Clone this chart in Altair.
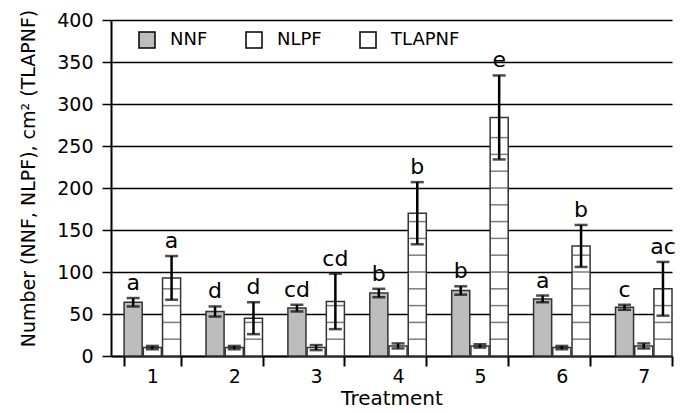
import altair as alt
import pandas as pd

treatments = ["1", "2", "3", "4", "5", "6", "7"]
series = ["NNF", "NLPF", "TLAPNF"]
nnf = [64, 53, 57, 75, 78, 68, 58]
nnf_err = [5, 6, 4, 5, 5, 4, 3]
nlpf = [10, 10, 10, 12, 12, 10, 12]
nlpf_err = [2, 2, 3, 3, 2, 2, 3]
tla = [93, 45, 65, 170, 284, 131, 80]
tla_err = [26, 19, 33, 37, 50, 25, 32]
nnf_lbl = ["a", "d", "cd", "b", "b", "a", "c"]
tla_lbl = ["a", "d", "cd", "b", "e", "b", "ac"]

rows = []
for i, t in enumerate(treatments):
    rows.append(dict(Treatment=t, Series="NNF", Value=nnf[i], Err=nnf_err[i], Label=nnf_lbl[i]))
    rows.append(dict(Treatment=t, Series="NLPF", Value=nlpf[i], Err=nlpf_err[i], Label=""))
    rows.append(dict(Treatment=t, Series="TLAPNF", Value=tla[i], Err=tla_err[i], Label=tla_lbl[i]))
df = pd.DataFrame(rows)
df["Lo"] = df["Value"] - df["Err"]
df["Hi"] = df["Value"] + df["Err"]

# horizontal hatch lines inside TLAPNF bars (derived from the values)
stripe_rows = []
for i, t in enumerate(treatments):
    y = 20
    while y < tla[i] - 4:
        stripe_rows.append(dict(Treatment=t, Series="TLAPNF", S=y))
        y += 20
stripes = pd.DataFrame(stripe_rows)

FONT = "DejaVu Sans"

x_scale = alt.Scale(domain=treatments, paddingInner=0.31, paddingOuter=0.08, align=1)
x_enc = alt.X("Treatment:N", title="Treatment", scale=x_scale,
              axis=alt.Axis(labelAngle=0, tickBand="extent", tickSize=10, tickWidth=2,
                            tickColor="black", domainColor="black", domainWidth=2,
                            labelFontSize=19, titleFontSize=20, labelPadding=1,
                            titlePadding=2, labelColor="black", titleColor="black",
                            labelFont=FONT, titleFont=FONT, titleFontWeight="normal"))
xo_enc = alt.XOffset("Series:N", scale=alt.Scale(domain=series, paddingInner=0.06))
y_scale = alt.Scale(domain=[0, 400])

bars = alt.Chart(df).mark_bar(stroke="#333333", strokeWidth=1.5).encode(
    x=x_enc, xOffset=xo_enc,
    y=alt.Y("Value:Q", scale=y_scale, title="Number (NNF, NLPF), cm² (TLAPNF)",
            axis=alt.Axis(values=list(range(0, 401, 50)), tickSize=9, tickWidth=1.5,
                          tickColor="black", domainColor="black", domainWidth=2,
                          gridColor="black", gridWidth=1.5, labelFontSize=19,
                          titleFontSize=19, labelColor="black", titleColor="black",
                          labelFont=FONT, titleFont=FONT, titleFontWeight="normal",
                          labelPadding=9, titlePadding=18, titleY=158)),
    fill=alt.Fill("Series:N", scale=alt.Scale(domain=series, range=["#bdbdbd", "white", "white"]),
                  legend=alt.Legend(title=None, orient="none", legendX=27, legendY=11,
                                    direction="horizontal", symbolType="square",
                                    symbolSize=256, symbolStrokeColor="black",
                                    symbolStrokeWidth=1.5, labelFontSize=18,
                                    labelFont=FONT, labelColor="black", labelOffset=14,
                                    columnPadding=35)),
)

stripe_layer = alt.Chart(stripes).mark_tick(orient="horizontal", size=18, thickness=1.5,
                                            color="#444444").encode(
    x=alt.X("Treatment:N", scale=x_scale), xOffset=xo_enc,
    y=alt.Y("S:Q", scale=y_scale),
)

err_rule = alt.Chart(df).mark_rule(color="black", strokeWidth=2.5).encode(
    x=alt.X("Treatment:N"), xOffset=xo_enc,
    y=alt.Y("Lo:Q", scale=y_scale), y2="Hi:Q",
)
cap_hi = alt.Chart(df).mark_tick(orient="horizontal", size=13, thickness=2.5, color="black").encode(
    x=alt.X("Treatment:N"), xOffset=xo_enc, y=alt.Y("Hi:Q", scale=y_scale))
cap_lo = alt.Chart(df).mark_tick(orient="horizontal", size=13, thickness=2.5, color="black").encode(
    x=alt.X("Treatment:N"), xOffset=xo_enc, y=alt.Y("Lo:Q", scale=y_scale))

labels = alt.Chart(df).transform_filter(alt.datum.Label != "").mark_text(
    baseline="bottom", dy=-3, fontSize=22, font=FONT, color="black").encode(
    x=alt.X("Treatment:N"), xOffset=xo_enc, y=alt.Y("Hi:Q", scale=y_scale), text="Label:N")

chart = alt.layer(bars, stripe_layer, err_rule, cap_hi, cap_lo, labels).properties(
    width=561, height=336,
    autosize=alt.AutoSizeParams(type="none"),
    padding={"left": 103, "top": 12, "right": 8, "bottom": 57},
).configure_view(stroke=None)

chart.save("out.html", embed_options={"renderer": "svg", "actions": False})
